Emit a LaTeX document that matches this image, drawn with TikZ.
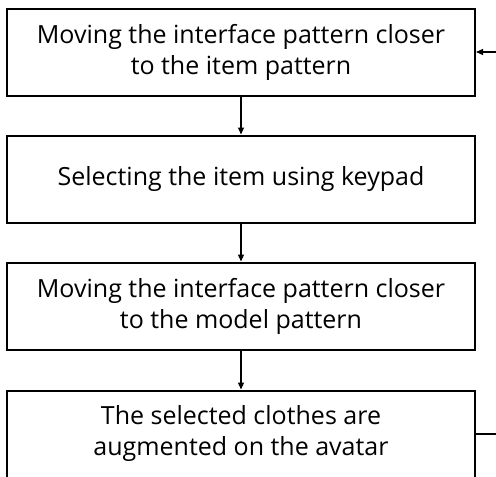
\documentclass[tikz,border=0pt]{standalone}
\usepackage{fontspec}
\setmainfont{Open Sans}
\usetikzlibrary{arrows.meta}
\begin{document}
\begin{tikzpicture}[x=1pt,y=-1pt,
  stepbox/.style={draw=black,line width=2pt,minimum width=468pt,minimum height=87pt,align=center,font=\fontsize{25}{31}\selectfont,inner sep=0pt},
  conn/.style={line width=1.2pt,-{Triangle[length=7pt,width=6pt]}}]
\useasboundingbox (0,0) rectangle (496,477);
\node[stepbox] (b1) at (241,52) {Moving the interface pattern closer\\to the item pattern};
\node[stepbox] (b2) at (241,179) {Selecting the item using keypad};
\node[stepbox] (b3) at (241,306) {Moving the interface pattern closer\\to the model pattern};
\node[stepbox] (b4) at (241,434) {The selected clothes are\\augmented on the avatar};
\coordinate (in) at (497,52);
\coordinate (out) at (497,434);
\draw[conn] (b1) -- (b2);
\draw[conn] (b2) -- (b3);
\draw[conn] (b3) -- (b4);
\draw[conn] (in) -- (b1.east);
\draw[line width=1.2pt] (b4.east) -- (out);
\end{tikzpicture}
\end{document}
